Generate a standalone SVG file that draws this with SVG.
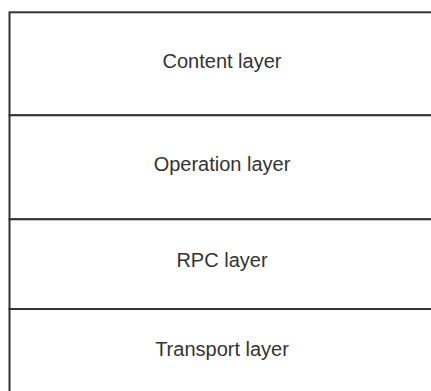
<svg xmlns="http://www.w3.org/2000/svg" width="431" height="391" viewBox="0 0 431 391">
<style>
.layer rect{fill:#fff;stroke:#333;stroke-width:2}
.layer text{font-family:"Liberation Sans",Arial,sans-serif;font-size:20px;fill:#333;text-anchor:middle}
</style>
<rect x="0" y="0" width="431" height="391" fill="#fff"/>
<g id="content-layer" class="layer">
<rect x="9.5" y="12.3" width="430" height="103"/>
<text x="222" y="67.7">Content layer</text>
</g>
<g id="operation-layer" class="layer">
<rect x="9.5" y="115.3" width="430" height="104"/>
<text x="222" y="171">Operation layer</text>
</g>
<g id="rpc-layer" class="layer">
<rect x="9.5" y="219.3" width="430" height="89.7"/>
<text x="222" y="267.3">RPC layer</text>
</g>
<g id="transport-layer" class="layer">
<rect x="9.5" y="309" width="430" height="100"/>
<text x="222" y="356">Transport layer</text>
</g>
<g id="connectors"></g>
</svg>
